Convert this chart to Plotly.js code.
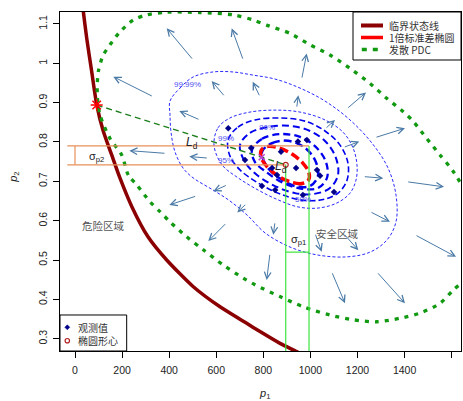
<!DOCTYPE html>
<html><head><meta charset="utf-8">
<script src="https://cdn.plot.ly/plotly-3.0.1.min.js"></script>
<style>html,body{margin:0;padding:0;background:#fff}</style>
</head><body><div id="chart" style="width:463px;height:401px"></div>
<script>
// ---- axis ticks ----
const xTickVals = [0,200,400,600,800,1000,1200,1400,1600];
const xTickText = ['0','200','400','600','800','1000','1200','1400','1600'];
const yTickVals = [0.3,0.4,0.5,0.6,0.7,0.8,0.9,1.0,1.1];
const yTickText = ['0.3','0.4','0.5','0.6','0.7','0.8','0.9','1','1.1'];

// ---- limit state curve ----
const limitX = [30,35.3,49.7,70.9,92.2,120.2,155.9,191.2,242,310,389.5,502.5,615.9,729.3,785.8,870.8,941.7,990];
const limitY = [1.16,1.132,1.064,0.979,0.895,0.827,0.767,0.708,0.635,0.559,0.500,0.432,0.381,0.339,0.318,0.288,0.267,0.252];

// ---- divergent PDC contour (green dotted) ----
const pdcX = [262.1,226.4,198.4,148.7,106.2,94.7,99.0,120.2,148.7,191.1,247.6,304.5,389.5,530.9,672.4,757.3,814.2,913.2,998.1,1083.1,1168.0,1252.9,1323.9,1394.4,1436.9,1493.8,1550.3,1606.8,1699,1728.7,1677.7,1606.8,1550.3,1465.3,1380.4,1281.4,1182.0,1083.1,969.7,870.7,764.5,714.8,629.9,544.9,474.4,403.5,361.0,318.6,262.1];
const pdcY = [0.691,0.716,0.767,0.809,0.869,0.920,0.979,1.021,1.047,1.080,1.110,1.123,1.130,1.129,1.123,1.110,1.097,1.076,1.047,1.021,0.987,0.949,0.911,0.877,0.852,0.809,0.767,0.725,0.626,0.538,0.462,0.424,0.390,0.365,0.352,0.343,0.348,0.360,0.381,0.407,0.437,0.454,0.487,0.526,0.559,0.597,0.623,0.648,0.691];

// ---- 1-sigma ellipse ----
const ellX = [991.8,963.7,916.2,862.2,816.3,790.4,792.1,820.2,867.7,921.7,967.6,993.5,991.8];
const ellY = [0.7032,0.6943,0.6983,0.7138,0.7367,0.7609,0.7799,0.7888,0.7848,0.7693,0.7464,0.7222,0.7032];

// ---- statistics ----
const meanP1 = 895, meanP2 = 0.742;
const sigmaP1 = 99, sigmaP2 = 0.048;
const designX = 92.2, designY = 0.894;      // most probable failure point
const nearX = 792.9, nearY = 0.761;          // ellipse point on L_d
const sigmaP1BarY = 0.52;

// ---- observations ----
const obsX = [651,748,722,875,947,837,858,939,1028,1041,968,1100,794,985,850];
const obsY = [0.835,0.785,0.754,0.775,0.801,0.734,0.716,0.734,0.729,0.714,0.665,0.673,0.688,0.805,0.678];

// ---- probability density contours ----
const c1X = [403.5,446.0,501.2,586.1,671.1,756.0,849.5,955.7,1061.9,1168.0,1261.5,1329.4,1363.4,1363.4,1325.2,1253.0,1155.3,1027.9,913.2,807.0,734.8,658.3,586.1,501.2,458.7,424.7,407.8,403.5,403.5];
const c1Y = [0.904,0.937,0.965,0.978,0.978,0.970,0.960,0.937,0.904,0.856,0.797,0.734,0.665,0.597,0.551,0.520,0.508,0.513,0.533,0.569,0.612,0.650,0.678,0.709,0.734,0.775,0.825,0.869,0.904];
const c2X = [590.4,607.4,658.3,743.3,849.5,955.7,1061.9,1138.3,1180.8,1197.7,1193.5,1168.0,1112.8,1032.1,947.2,862.2,777.3,692.3,624.4,590.4];
const c2Y = [0.792,0.836,0.861,0.876,0.881,0.876,0.856,0.825,0.785,0.742,0.703,0.670,0.645,0.632,0.635,0.653,0.678,0.709,0.742,0.792];
const c3X = [649.9,692.3,764.5,870.7,976.9,1061.9,1125.6,1159.5,1155.3,1117.1,1049.1,955.7,862.2,777.3,700.8,658.3,649.9];
const c3Y = [0.805,0.838,0.856,0.861,0.853,0.828,0.792,0.746,0.703,0.670,0.653,0.653,0.670,0.696,0.729,0.764,0.805];
const c4X = [700.8,743.3,819.7,913.2,998.1,1066.1,1108.6,1117.1,1083.1,1015.1,934.5,849.5,773.0,722.1,700.8];
const c4Y = [0.792,0.823,0.838,0.841,0.828,0.800,0.759,0.716,0.683,0.668,0.670,0.688,0.716,0.749,0.792];
const c5X = [751.8,794.3,870.7,955.7,1023.6,1066.1,1070.3,1032.1,964.2,883.5,811.3,764.5,751.8];
const c5Y = [0.780,0.808,0.820,0.813,0.787,0.749,0.709,0.683,0.681,0.696,0.724,0.749,0.780];
const c6X = [794.3,836.7,904.7,972.7,1019.4,1032.1,998.1,934.5,866.5,815.5,794.3];
const c6Y = [0.775,0.797,0.803,0.787,0.754,0.714,0.688,0.688,0.709,0.737,0.775];
const contourLabels = ['99.99%','99%','95%','80%','50%'];
const contourLabelX = [478,641,641,815,968];
const contourLabelY = [0.947,0.810,0.752,0.836,0.653];

// ---- gradient arrows (tail -> head) ----
const arrX0 = [502.5,714.8,332.6,637.1,785.8,530.9,386.5,566.2,962.9,941.6,1154.0,1061.9,1274.2,1139.6,1224.5,1408.9,1253.0,1444.1,849.5,1019.4,1139.6,828.2,1090.3,1281.4,516.9,646.9,729.3,644.3];
const arrY0 = [1.008,1.008,0.915,0.915,0.915,0.856,0.771,0.759,0.960,0.886,0.884,0.833,0.811,0.786,0.712,0.699,0.623,0.564,0.597,0.568,0.568,0.517,0.470,0.470,0.663,0.691,0.644,0.595];
const arrX1 = [389.5,665.6,162.7,580.6,754.8,443.0,230.6,485.5,984.1,948.4,1236.0,1104.3,1401.6,1207.5,1309.5,1567.3,1337.9,1618.3,842.3,1047.8,1203.3,814.2,1146.8,1401.6,400.5,587.4,689.4,566.2];
const arrY1 = [1.089,1.089,0.966,0.955,0.953,0.879,0.778,0.763,1.025,0.919,0.926,0.856,0.835,0.801,0.708,0.686,0.597,0.508,0.564,0.521,0.525,0.449,0.390,0.390,0.640,0.675,0.621,0.548];

// ---- legend texts ----
const legendTopText = ['临界状态线','1倍标准差椭圆','发散 PDC'];
const legendBottomText = ['观测值','椭圆形心'];

const FONT = 'Liberation Sans, Arial, Noto Sans CJK SC, sans-serif';
const CJK = 'Noto Sans CJK SC, Liberation Sans, sans-serif';

function line(x, y, color, width, dash, shape, smooth) {
  return {type:'scatter', mode:'lines', x:x, y:y, hoverinfo:'skip', showlegend:false,
    line:{color:color, width:width, dash:dash||'solid', shape:shape||'linear', smoothing:smooth||1}};
}

const traces = [];
traces.push(line(c1X,c1Y,'#2a2aff',1,'3px,2px','spline'));
traces.push(line(c2X,c2Y,'#2a2aff',1,'3px,2px','spline'));
traces.push(line(c3X,c3Y,'#0000ee',1.6,'6px,3px','spline'));
traces.push(line(c4X,c4Y,'#0000ee',2,'7px,4px','spline'));
traces.push(line(c5X,c5Y,'#0000ee',2.3,'7px,4px','spline'));
traces.push(line(c6X,c6Y,'#0000ee',2.5,'8px,4px','spline'));
traces.push(line(limitX,limitY,'#8B0000',3.5,'solid','spline',0.6));
traces.push(line(pdcX,pdcY,'#119911',3.3,'4px,6px','spline',0.8));
traces.push(line(ellX,ellY,'#ff0000',3.5,'9px,4px','spline'));
traces.push(line([designX,meanP1],[designY,meanP2],'#1f7f1f',1.4,'6px,4px'));
// orange sigma_p2 band
traces.push(line([-32.7,meanP1+sigmaP1],[meanP2+sigmaP2,meanP2+sigmaP2],'#e8905a',1.2));
traces.push(line([-32.7,meanP1],[meanP2,meanP2],'#e8905a',1.2));
traces.push(line([0,0],[meanP2,meanP2+sigmaP2],'#e8905a',1.2));
// green sigma_p1 band
traces.push(line([meanP1,meanP1],[meanP2,0.2],'#3ce63c',1.2));
traces.push(line([meanP1+sigmaP1,meanP1+sigmaP1],[meanP2+sigmaP2,0.2],'#3ce63c',1.2));
traces.push(line([meanP1,meanP1+sigmaP1],[sigmaP1BarY,sigmaP1BarY],'#3ce63c',1.2));
// observations
traces.push({type:'scatter',mode:'markers',x:obsX,y:obsY,hoverinfo:'skip',showlegend:false,
  marker:{symbol:'diamond',size:5,color:'#00008B'}});
traces.push({type:'scatter',mode:'markers',x:[meanP1],y:[meanP2],hoverinfo:'skip',showlegend:false,
  marker:{symbol:'circle-open',size:5,color:'#B22222',line:{width:1.2}}});
traces.push({type:'scatter',mode:'markers',x:[nearX],y:[nearY],hoverinfo:'skip',showlegend:false,
  marker:{symbol:'x-thin-open',size:6,color:'#c040d0',line:{color:'#c040d0',width:1.5}}});
traces.push({type:'scatter',mode:'markers',x:[designX],y:[designY],hoverinfo:'skip',showlegend:false,
  marker:{symbol:'asterisk-open',size:10,color:'#ff0000',line:{color:'#ff0000',width:1.4}}});

const ann = [];
for (let i=0;i<arrX0.length;i++){
  ann.push({x:arrX1[i],y:arrY1[i],ax:arrX0[i],ay:arrY0[i],xref:'x',yref:'y',axref:'x',ayref:'y',
    text:'',showarrow:true,arrowhead:5,arrowsize:1.3,arrowwidth:1,arrowcolor:'#4a7aa6',standoff:0});
}
for (let i=0;i<contourLabels.length;i++){
  ann.push({x:contourLabelX[i],y:contourLabelY[i],xref:'x',yref:'y',text:contourLabels[i],showarrow:false,
    font:{family:FONT,size:8,color:'#5050f0'}});
}
function txt(x,y,t,size,color,fam){
  return {x:x,y:y,xref:'x',yref:'y',text:t,showarrow:false,font:{family:fam||FONT,size:size,color:color||'#222'}};
}
ann.push(txt(92,0.763,'σ<sub>p2</sub>',11,'#222'));
ann.push(txt(948,0.551,'σ<sub>p1</sub>',11,'#222'));
ann.push(txt(496,0.797,'<i>L</i><sub>d</sub>',12,'#222'));
ann.push(txt(875,0.737,'<i>L</i><sub>d</sub>',12,'#222'));
ann.push(txt(120,0.587,'危险区域',10.5,'#555',CJK));
ann.push(txt(1114.6,0.568,'安全区域',10.5,'#555',CJK));
// axis titles
ann.push({x:0.511,y:-0.128,xref:'paper',yref:'paper',yanchor:'middle',text:'<i>p</i><sub>1</sub>',showarrow:false,
  font:{family:FONT,size:11,color:'#222'}});
ann.push({x:-0.138,y:0.513,xref:'paper',yref:'paper',text:'<i>p</i><sub>2</sub>',showarrow:false,textangle:-90,
  font:{family:FONT,size:11,color:'#222'}});

// ---- legends (drawn as shapes + text) ----
const shapes = [];
shapes.push({type:'rect',xref:'paper',yref:'paper',x0:0.7307,x1:1.0,y0:0.8584,y1:1.0,fillcolor:'#fff',line:{color:'#000',width:1},layer:'above'});
const rowsTop = [0.9602,0.9248,0.8894];
shapes.push({type:'line',xref:'paper',yref:'paper',x0:0.7506,x1:0.8055,y0:rowsTop[0],y1:rowsTop[0],line:{color:'#8B0000',width:4}});
shapes.push({type:'line',xref:'paper',yref:'paper',x0:0.7506,x1:0.8055,y0:rowsTop[1],y1:rowsTop[1],line:{color:'#ff0000',width:3.5}});
shapes.push({type:'line',xref:'paper',yref:'paper',x0:0.7526,x1:0.7943,y0:rowsTop[2],y1:rowsTop[2],line:{color:'#119911',width:3.5,dash:'5px,6px'}});
for (let i=0;i<3;i++){
  ann.push({x:0.818,y:rowsTop[i],xref:'paper',yref:'paper',xanchor:'left',yanchor:'middle',text:legendTopText[i],
    showarrow:false,borderpad:0,font:{family:CJK,size:10,color:'#333'}});
}
shapes.push({type:'rect',xref:'paper',yref:'paper',x0:0,x1:0.1663,y0:0,y1:0.1062,fillcolor:'#fff',line:{color:'#000',width:1},layer:'above'});
const rowsBot = [0.0699,0.0304];
const cx=0.0182, dx=0.0062, dy=0.0074;
shapes.push({type:'path',xref:'paper',yref:'paper',
  path:`M${cx},${rowsBot[0]+dy} L${cx+dx},${rowsBot[0]} L${cx},${rowsBot[0]-dy} L${cx-dx},${rowsBot[0]} Z`,
  fillcolor:'#00008B',line:{color:'#00008B',width:0.5}});
shapes.push({type:'circle',xref:'paper',yref:'paper',x0:cx-0.0055,x1:cx+0.0055,y0:rowsBot[1]-0.0065,y1:rowsBot[1]+0.0065,
  line:{color:'#B22222',width:1.2}});
for (let i=0;i<2;i++){
  ann.push({x:0.0436,y:rowsBot[i],xref:'paper',yref:'paper',xanchor:'left',yanchor:'middle',text:legendBottomText[i],
    showarrow:false,borderpad:0,font:{family:CJK,size:10,color:'#333'}});
}

const axisCommon = {ticks:'outside',ticklen:6,tickcolor:'#000',tickwidth:1,showline:true,linecolor:'#000',linewidth:1,
  mirror:true,showgrid:false,zeroline:false,tickfont:{family:FONT,size:10.5,color:'#222'}};
const layout = {
  width:463,height:401,margin:{l:60,r:2,t:12,b:50},
  paper_bgcolor:'#fff',plot_bgcolor:'#fff',showlegend:false,hovermode:false,
  xaxis:Object.assign({range:[-63.7,1639.5],tickmode:'array',tickvals:xTickVals,ticktext:xTickText,ticklabelstandoff:3},axisCommon),
  yaxis:Object.assign({range:[0.2687,1.1304],tickmode:'array',tickvals:yTickVals,ticktext:yTickText,tickangle:-90,ticklabelstandoff:2},axisCommon),
  shapes:shapes,annotations:ann
};
Plotly.newPlot('chart',traces,layout,{staticPlot:true,displayModeBar:false});
</script></body></html>
